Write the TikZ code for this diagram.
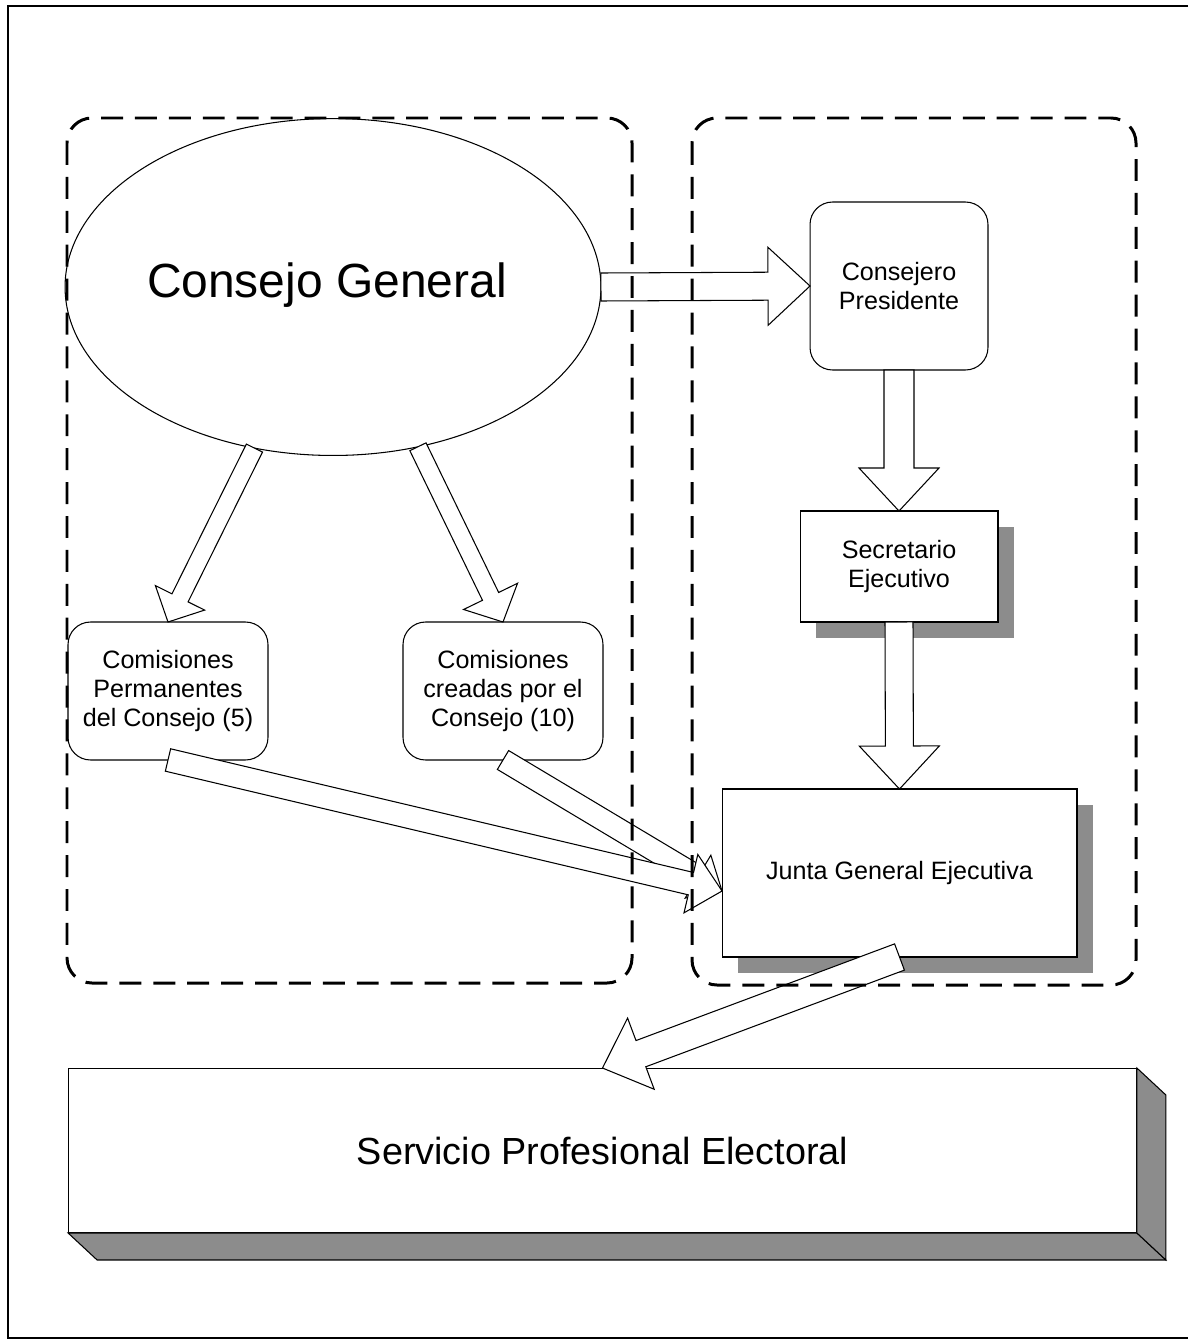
\documentclass[tikz,border=0pt]{standalone}
\usepackage{fontspec}
\setmainfont{Liberation Sans}
\usetikzlibrary{calc,shapes.geometric,shadows}

% hollow block arrow: from, to, half shaft, half head, head length
\newcommand{\hollowarrow}[5]{%
  \coordinate (hb) at ($(#2)!#5!(#1)$);
  \draw[hollow] ($(#1)!#3!90:(#2)$) -- ($(hb)!#3!90:(#2)$) -- ($(hb)!#4!90:(#2)$) -- (#2)
    -- ($(hb)!#4!-90:(#2)$) -- ($(hb)!#3!-90:(#2)$) -- ($(#1)!#3!-90:(#2)$) -- cycle;
}

\begin{document}
\begin{tikzpicture}[x=0.02cm, y=-0.02cm,
    every node/.style={inner sep=0pt, outer sep=0pt, align=center,
      font=\fontsize{14.3}{16.7}\selectfont},
    roundbox/.style={draw, line width=0.6pt, rounded corners=0.45cm},
    shadowbox/.style={draw, fill=white, line width=0.6pt,
      drop shadow={shadow xshift=0.32cm, shadow yshift=-0.32cm, fill=black!45, opacity=1}},
    hollow/.style={draw, fill=white, line width=0.6pt, line join=miter},
    groupframe/.style={line width=1.7pt, dash pattern=on 12.5pt off 6.8pt, rounded corners=0.5cm},
    solid3d/.style={draw, fill=black!45, line width=0.6pt}]
    \useasboundingbox (0,0) rectangle (1188,1342);

    % page frame
    \draw[line width=0.8pt] (1188,6) -- (8,6) -- (8,1338) -- (1188,1338);

    % nodes
    \node[draw, ellipse, line width=0.6pt, minimum width=10.72cm, minimum height=6.74cm] (cg) at (333,287) {};
    \node[font=\fontsize{27.3}{30}\selectfont] (cgtext) at (327,285) {Consejo General};
    \node[roundbox, minimum width=3.56cm, minimum height=3.36cm] (pres) at (899,286) {Consejero\\Presidente};
    \node[shadowbox, minimum width=3.96cm, minimum height=2.22cm] (sec) at (899,566.5) {Secretario\\Ejecutivo};
    \node[shadowbox, minimum width=7.1cm, minimum height=3.36cm] (jge) at (899.5,873) {Junta General Ejecutiva};
    \node[roundbox, minimum width=4cm, minimum height=2.76cm] (perm) at (168,691) {Comisiones\\Permanentes\\del Consejo (5)};
    \node[roundbox, minimum width=4cm, minimum height=2.76cm] (cre) at (503,691) {Comisiones\\creadas por el\\Consejo (10)};
    \node[draw, line width=0.6pt, minimum width=21.38cm, minimum height=3.3cm,
      font=\fontsize{21.5}{24}\selectfont] (serv) at (602.5,1150.5) {Servicio Profesional Electoral};

    % 3d sides of the bottom box
    \draw[solid3d] (serv.south west) -- (serv.south east) -- ($(serv.south east)+(29,27)$)
      -- ($(serv.south west)+(29,27)$) -- cycle;
    \draw[solid3d] (serv.north east) -- ($(serv.north east)+(29,27)$) -- ($(serv.south east)+(29,27)$)
      -- (serv.south east) -- cycle;

    \coordinate (jin) at ($(jge.west)+(0,18)$);

    % arrows
    \hollowarrow{cg.east}{pres.west}{0.28cm}{0.78cm}{0.84cm}
    \hollowarrow{pres.south}{sec.north}{0.3cm}{0.8cm}{0.86cm}
    \hollowarrow{sec.south}{jge.north}{0.28cm}{0.8cm}{0.86cm}
    \hollowarrow{cg.-116}{perm.north}{0.18cm}{0.55cm}{0.54cm}
    \hollowarrow{cg.-62}{cre.north}{0.18cm}{0.6cm}{0.57cm}
    \hollowarrow{cre.south}{jin}{0.22cm}{0.5cm}{0.56cm}
    \hollowarrow{perm.south}{jin}{0.23cm}{0.6cm}{0.64cm}
    \hollowarrow{jge.south}{serv.north}{0.28cm}{0.76cm}{0.82cm}

    % dashed groups
    \draw[groupframe] (67,118) rectangle (632,983);
    \draw[groupframe] (692,118) rectangle (1136,985);
\end{tikzpicture}
\end{document}
